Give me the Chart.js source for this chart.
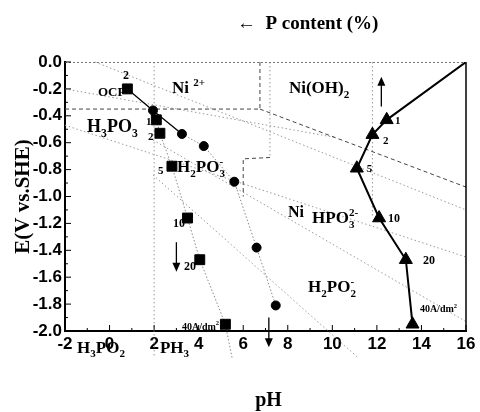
<!DOCTYPE html>
<html>
<head>
<meta charset="utf-8">
<script src="https://cdn.jsdelivr.net/npm/chart.js@4"></script>
<style>
  body { margin: 0; background: #fff; }
  canvas { display: block; }
</style>
</head>
<body>
<canvas id="chart" width="480" height="412"></canvas>
<script>
// --- data (pH, E vs SHE) ---
const ocpPoint = [0.8, -0.2];

const squarePH = [2.1, 2.26, 2.8, 3.5, 4.05, 5.2];
const squareE = [-0.43, -0.53, -0.775, -1.16, -1.47, -1.95];

const circlePH = [1.95, 3.25, 4.23, 5.6, 6.6, 7.46];
const circleE = [-0.36, -0.535, -0.625, -0.89, -1.38, -1.81];

const trianglePH = [12.44, 11.8, 11.1, 12.1, 13.3, 13.6];
const triangleE = [-0.43, -0.54, -0.79, -1.16, -1.47, -1.95];
const triangleStart = [16, 0];

// Pourbaix boundaries (dashed = Ni, dotted = phosphorus species)
const niBoundaries = [
  [[-2, -0.35], [6.75, -0.35]],
  [[6.75, 0], [6.75, -0.35]],
  [[6.75, -0.35], [16, -0.93]],
  [[7.2, -0.71], [6.0, -0.72], [6.0, -1.0]]
];
const pLines = [
  [[-0.65, 0], [16, -1.10]],
  [[-2, -0.20], [10.1, -0.56]],
  [[-2, -0.47], [16, -1.45]],
  [[1.95, -0.58], [16, -1.93]],
  [[1.95, -0.84], [11.1, -2.19]],
  [[2, 0], [2, -2.2]],
  [[7.2, 0], [7.2, -0.71]],
  [[11.8, 0], [11.8, -1.15]]
];

const xTicks = [-2, 16, 2];   // min, max, step
const yTicks = [-2, 0, 0.2];

// arrows: [pH, fromE, toE]
const arrows = [[12.2, -0.33, -0.11], [3.0, -1.34, -1.56], [7.15, -1.9, -2.12]];

// text labels: [pH, E, size, parts]  parts: [text, 0 normal | 1 sub | 2 sup]
const labels = [
  [-0.52, -0.25, 13, [['OCP', 0]]],
  [0.6, -0.13, 12, [['2', 0]]],
  [2.8, -0.23, 17, [['Ni ', 0], ['2+', 2]]],
  [8.05, -0.23, 17, [['Ni(OH)', 0], ['2', 1]]],
  [-1.01, -0.52, 18, [['H', 0], ['3', 1], ['PO', 0], ['3', 1]]],
  [1.64, -0.47, 11, [['1', 0]]],
  [1.73, -0.58, 11, [['2', 0]]],
  [2.17, -0.83, 11, [['5', 0]]],
  [3.03, -0.82, 17, [['H', 0], ['2', 1], ['PO', 0], ['3', 1], ['-', 2]]],
  [2.85, -1.23, 12, [['10', 0]]],
  [3.34, -1.55, 12, [['20', 0]]],
  [3.25, -1.99, 10, [['40A/dm', 0], ['2', 2]]],
  [8.01, -1.15, 16, [['Ni', 0]]],
  [9.09, -1.20, 17, [['HPO', 0], ['3', 1], ['2-', 2]]],
  [12.81, -0.46, 11, [['1', 0]]],
  [12.27, -0.61, 11, [['2', 0]]],
  [11.55, -0.82, 11, [['5', 0]]],
  [12.5, -1.19, 12, [['10', 0]]],
  [14.07, -1.50, 12, [['20', 0]]],
  [13.93, -1.86, 10, [['40A/dm', 0], ['2', 2]]],
  [8.91, -1.71, 17, [['H', 0], ['2', 1], ['PO', 0], ['2', 1], ['-', 2]]],
  [-1.46, -2.16, 17, [['H', 0], ['3', 1], ['PO', 0], ['2', 1]]],
  [2.26, -2.16, 17, [['PH', 0], ['3', 1]]]
];

const toXY = (xs, ys) => xs.map((v, i) => ({ x: v, y: ys[i] }));
const pairs = arr => arr.map(p => ({ x: p[0], y: p[1] }));

const datasets = [
  {
    data: toXY(trianglePH, triangleE),
    pointStyle: 'triangle', pointRadius: 7.5, backgroundColor: '#000', borderColor: '#000',
    showLine: false
  },
  {
    data: [pairs([triangleStart])[0], ...toXY(trianglePH, triangleE)],
    showLine: true, pointRadius: 0, borderColor: '#000', borderWidth: 2
  },
  {
    data: [pairs([ocpPoint])[0], ...toXY(squarePH, squareE)],
    pointStyle: 'rect', pointRadius: 7, backgroundColor: '#000', borderColor: '#000',
    showLine: false
  },
  {
    data: toXY(circlePH, circleE),
    pointStyle: 'circle', pointRadius: 4.5, backgroundColor: '#000', borderColor: '#000',
    showLine: false
  },
  {
    data: [pairs([ocpPoint])[0], ...toXY(circlePH.slice(0, 2), circleE.slice(0, 2))],
    showLine: true, pointRadius: 0, borderColor: '#000', borderWidth: 1.3
  },
  {
    data: toXY(circlePH.slice(1), circleE.slice(1)),
    showLine: true, pointRadius: 0, borderColor: '#888', borderWidth: 1, borderDash: [1.5, 2]
  },
  {
    data: [...toXY(squarePH, squareE), { x: 5.5, y: -2.2 }],
    showLine: true, pointRadius: 0, borderColor: '#888', borderWidth: 1, borderDash: [1.5, 2], clip: false
  }
];
niBoundaries.forEach(l => datasets.push({
  data: pairs(l), showLine: true, pointRadius: 0, borderColor: '#444', borderWidth: 1, borderDash: [4, 3]
}));
pLines.forEach(l => datasets.push({
  data: pairs(l), showLine: true, pointRadius: 0, borderColor: '#999', borderWidth: 1, borderDash: [1.5, 2.5], clip: false
}));

function drawRich(ctx, x, y, parts, size) {
  let cx = x, lastStart = x, prevKind = 0;
  parts.forEach(([t, k]) => {
    const s = k ? size * 0.65 : size;
    ctx.font = `bold ${s}px "Liberation Serif"`;
    if (k === 2 && prevKind === 1) cx = lastStart;
    const dy = k === 1 ? size * 0.28 : k === 2 ? -size * 0.42 : 0;
    ctx.fillText(t, cx, y + dy);
    lastStart = cx;
    cx += ctx.measureText(t).width;
    prevKind = k;
  });
}

const extras = {
  id: 'extras',
  afterDatasetsDraw(chart) {
    const { ctx, chartArea: a, scales: { x, y } } = chart;
    ctx.save();
    // frame: top & right
    ctx.strokeStyle = '#777'; ctx.lineWidth = 1; ctx.setLineDash([2, 2]);
    ctx.beginPath(); ctx.moveTo(a.left, a.top + 0.5); ctx.lineTo(a.right, a.top + 0.5); ctx.stroke();
    ctx.setLineDash([]);
    ctx.strokeStyle = '#000'; ctx.lineWidth = 1.5;
    ctx.beginPath(); ctx.moveTo(a.right, a.top); ctx.lineTo(a.right, a.bottom); ctx.stroke();

    // inward ticks
    ctx.lineWidth = 1;
    for (let v = xTicks[0]; v <= xTicks[1]; v++) {
      const px = x.getPixelForValue(v), len = v % 2 === 0 ? 6 : 3;
      ctx.beginPath(); ctx.moveTo(px, a.bottom); ctx.lineTo(px, a.bottom - len); ctx.stroke();
    }
    for (let i = 0; i <= 20; i++) {
      const py = y.getPixelForValue(-i / 10), len = i % 2 === 0 ? 6 : 3;
      ctx.beginPath(); ctx.moveTo(a.left, py); ctx.lineTo(a.left + len, py); ctx.stroke();
    }

    // arrows
    ctx.fillStyle = '#000'; ctx.strokeStyle = '#000'; ctx.lineWidth = 1.3;
    arrows.forEach(([ph, e0, e1]) => {
      const px = x.getPixelForValue(ph), y0 = y.getPixelForValue(e0), y1 = y.getPixelForValue(e1);
      const dir = Math.sign(y1 - y0);
      ctx.beginPath(); ctx.moveTo(px, y0); ctx.lineTo(px, y1 - dir * 6); ctx.stroke();
      ctx.beginPath(); ctx.moveTo(px, y1); ctx.lineTo(px - 4, y1 - dir * 9); ctx.lineTo(px + 4, y1 - dir * 9);
      ctx.closePath(); ctx.fill();
    });

    // labels
    ctx.textBaseline = 'alphabetic'; ctx.textAlign = 'left';
    labels.forEach(([ph, e, size, parts]) => {
      drawRich(ctx, x.getPixelForValue(ph), y.getPixelForValue(e), parts, size);
    });

    // titles
    ctx.font = 'bold 19px "Liberation Serif"';
    ctx.fillText('\u2190  P content (%)', 237, 29);
    ctx.textAlign = 'center';
    ctx.font = 'bold 20px "Liberation Serif"';
    ctx.fillText('pH', (a.left + a.right) / 2 + 3, 406);
    ctx.translate(29, (a.top + a.bottom) / 2);
    ctx.rotate(-Math.PI / 2);
    ctx.font = 'bold 21px "Liberation Serif"';
    ctx.fillText('E(V vs.SHE)', 0, 0);
    ctx.restore();
  }
};

const tickFont = { family: '"Liberation Sans", Arial', size: 17, weight: 'bold' };

new Chart(document.getElementById('chart'), {
  type: 'scatter',
  data: { datasets },
  options: {
    responsive: false,
    animation: false,
    layout: { padding: { top: 62, right: 14, left: 0, bottom: 0 } },
    plugins: { legend: { display: false }, tooltip: { enabled: false } },
    scales: {
      x: {
        type: 'linear', min: xTicks[0], max: xTicks[1],
        ticks: { stepSize: xTicks[2], color: '#000', font: tickFont, padding: 3 },
        grid: { drawOnChartArea: false, drawTicks: false },
        border: { color: '#000', width: 2 },
        afterFit: s => { s.height = 81; }
      },
      y: {
        min: yTicks[0], max: yTicks[1],
        ticks: {
          stepSize: yTicks[2], color: '#000', font: tickFont, padding: 3,
          callback: v => (Math.round(v * 10) / 10).toFixed(1).replace('-0.0', '0.0')
        },
        grid: { drawOnChartArea: false, drawTicks: false },
        border: { color: '#000', width: 2 },
        afterFit: s => { s.width = 65; }
      }
    }
  },
  plugins: [extras]
});
</script>
</body>
</html>
